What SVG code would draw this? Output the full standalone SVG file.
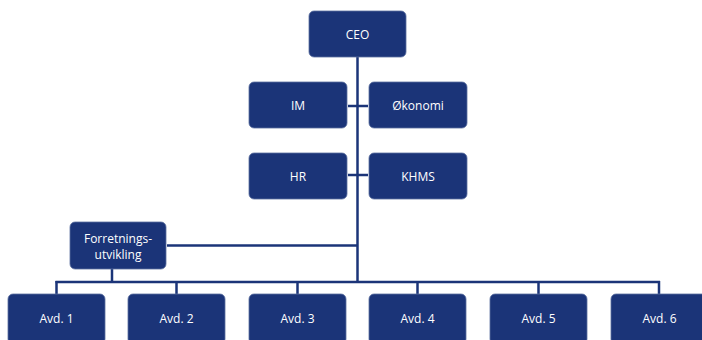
<svg xmlns="http://www.w3.org/2000/svg" width="702" height="340" viewBox="0 0 702 340">
<style>
.box{fill:#1b3478;stroke:#5a6fa0;stroke-width:0.8}
.t{font-family:"Open Sans","Liberation Sans",sans-serif;font-size:12px;fill:#ffffff;text-anchor:middle;dominant-baseline:central}
.ln{stroke:#1b3478;stroke-width:2.5;fill:none}
</style>
<rect width="702" height="340" fill="#ffffff"/>
<g id="connectors">
<line class="ln" x1="357.5" y1="57" x2="357.5" y2="283"/>
<line class="ln" x1="348" y1="106" x2="368" y2="106"/>
<line class="ln" x1="348" y1="175" x2="368" y2="175"/>
<line class="ln" x1="167" y1="245.5" x2="357.5" y2="245.5"/>
<line class="ln" x1="112" y1="269" x2="112" y2="282"/>
<line class="ln" x1="55.5" y1="282" x2="660" y2="282"/>
<line class="ln" x1="56.5" y1="281" x2="56.5" y2="294"/>
<line class="ln" x1="176.5" y1="281" x2="176.5" y2="294"/>
<line class="ln" x1="297.5" y1="281" x2="297.5" y2="294"/>
<line class="ln" x1="417.5" y1="281" x2="417.5" y2="294"/>
<line class="ln" x1="538.5" y1="281" x2="538.5" y2="294"/>
<line class="ln" x1="659" y1="281" x2="659" y2="294"/>
</g>
<g id="ceo"><rect class="box" x="309" y="11" width="97" height="46" rx="5"/><text class="t" x="357.5" y="34">CEO</text></g>
<g id="im"><rect class="box" x="249" y="82" width="98" height="46" rx="5"/><text class="t" x="298" y="105">IM</text></g>
<g id="okonomi"><rect class="box" x="369" y="82" width="98" height="46" rx="5"/><text class="t" x="418" y="105">Økonomi</text></g>
<g id="hr"><rect class="box" x="249" y="153" width="98" height="46" rx="5"/><text class="t" x="298" y="176">HR</text></g>
<g id="khms"><rect class="box" x="369" y="153" width="98" height="46" rx="5"/><text class="t" x="418" y="176">KHMS</text></g>
<g id="forretning"><rect class="box" x="70" y="222" width="96" height="47" rx="5"/><text class="t" x="118" y="238">Forretnings-</text><text class="t" x="118" y="254">utvikling</text></g>
<g id="avd1"><rect class="box" x="8" y="294" width="97" height="50" rx="5"/><text class="t" x="56.5" y="318">Avd. 1</text></g>
<g id="avd2"><rect class="box" x="128" y="294" width="97" height="50" rx="5"/><text class="t" x="176.5" y="318">Avd. 2</text></g>
<g id="avd3"><rect class="box" x="249" y="294" width="97" height="50" rx="5"/><text class="t" x="297.5" y="318">Avd. 3</text></g>
<g id="avd4"><rect class="box" x="369" y="294" width="97" height="50" rx="5"/><text class="t" x="417.5" y="318">Avd. 4</text></g>
<g id="avd5"><rect class="box" x="490" y="294" width="97" height="50" rx="5"/><text class="t" x="538.5" y="318">Avd. 5</text></g>
<g id="avd6"><rect class="box" x="611" y="294" width="97" height="50" rx="5"/><text class="t" x="659.5" y="318">Avd. 6</text></g>
</svg>
